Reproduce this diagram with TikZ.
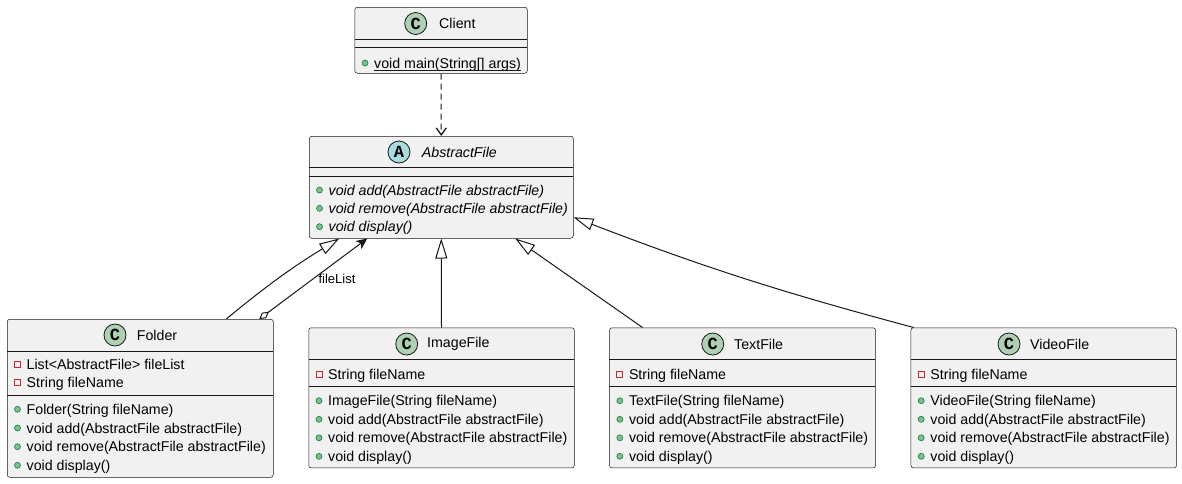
\documentclass[tikz,border=0pt]{standalone}
\usepackage{fontspec}
\setmainfont{Liberation Sans}
\newfontfamily\spotfont{Liberation Mono}
\usetikzlibrary{arrows.meta}
\definecolor{boxfill}{HTML}{F1F1F1}
\definecolor{ink}{HTML}{181818}
\definecolor{spotC}{HTML}{ADD1B2}
\definecolor{spotA}{HTML}{A9DCDF}
\definecolor{pubfill}{HTML}{84BE84}
\definecolor{pubdraw}{HTML}{038048}
\definecolor{privdraw}{HTML}{C82930}
\tikzset{
  classbox/.style={draw=ink, line width=0.5pt, fill=boxfill, rounded corners=2.5pt, inner sep=0pt, anchor=north west},
  sepline/.style={draw=ink, line width=0.5pt},
  spot/.style={circle, draw=ink, line width=0.8pt, minimum size=22pt, inner sep=0pt, font=\spotfont\bfseries\fontsize{17}{17}\selectfont},
  title/.style={anchor=west, inner sep=0pt, font=\fontsize{14.2}{16}\selectfont},
  mem/.style={anchor=base west, inner sep=0pt, font=\fontsize{14.2}{16}\selectfont},
  pubmark/.style={fill=pubfill, draw=pubdraw, line width=0.6pt},
  privmark/.style={draw=privdraw, line width=0.8pt},
  conn/.style={draw=ink, line width=1pt},
  gen/.style={conn, -{Triangle[open, length=20pt, width=12pt]}},
  dep/.style={conn, dash pattern=on 6pt off 4pt, -{Straight Barb[length=7pt, width=10pt, line width=1.3pt]}},
  agg/.style={conn, {Diamond[open, length=12pt, width=7pt]}-{Stealth[length=11pt, width=10pt, inset=3pt]}},
  lbl/.style={inner sep=0pt, font=\fontsize{13}{15}\selectfont}
}
% name, box left, centre y, text
\newcommand\pubmem[4]{%
  \fill[pubmark] ({#2+10.5},{#3}) circle (3pt);
  \node[mem] (#1) at ({#2+19.5},{#3+5}) {#4};}
\newcommand\privmem[4]{%
  \draw[privmark] ({#2+7.5},{#3-3}) rectangle ({#2+13.5},{#3+3});
  \node[mem] (#1) at ({#2+19.5},{#3+5}) {#4};}
\begin{document}
\begin{tikzpicture}[x=1pt, y=-1pt]
\useasboundingbox (0,0) rectangle (1182,483);
\fill[white] (0,0) rectangle (1182,483);

% Client
\node[classbox, minimum width=172.5pt, minimum height=66pt] (client) at (354.5,7) {};
\draw[sepline] (354.5,39.5) -- (527,39.5);
\draw[sepline] (354.5,47.5) -- (527,47.5);
\node[spot, fill=spotC] (clientspot) at (415.7,23.5) {C};
\node[title] (clienttitle) at (439,23.5) {Client};
\pubmem{clientm1}{354.5}{63}{void main(String[] args)}
\draw[ink, line width=0.8pt] ([yshift=-2pt]clientm1.base west) -- ([yshift=-2pt]clientm1.base east);

% AbstractFile
\node[classbox, minimum width=264pt, minimum height=102pt] (abs) at (309,136) {};
\draw[sepline] (309,167) -- (573,167);
\draw[sepline] (309,176) -- (573,176);
\node[spot, fill=spotA] (absspot) at (399,152) {A};
\node[title, font=\fontsize{14.2}{16}\selectfont\itshape] (abstitle) at (421.7,152) {AbstractFile};
\pubmem{absm1}{309}{190}{\itshape void add(AbstractFile abstractFile)}
\pubmem{absm2}{309}{208.3}{\itshape void remove(AbstractFile abstractFile)}
\pubmem{absm3}{309}{226.7}{\itshape void display()}

% Folder
\node[classbox, minimum width=266pt, minimum height=158pt] (fold) at (7,319) {};
\draw[sepline] (7,351) -- (273,351);
\draw[sepline] (7,395) -- (273,395);
\node[spot, fill=spotC] (foldspot) at (115,335) {C};
\node[title] (foldtitle) at (136.7,335) {Folder};
\privmem{folda1}{7}{364}{List<AbstractFile> fileList}
\privmem{folda2}{7}{382.7}{String fileName}
\pubmem{foldm1}{7}{409.3}{Folder(String fileName)}
\pubmem{foldm2}{7}{428}{void add(AbstractFile abstractFile)}
\pubmem{foldm3}{7}{446.7}{void remove(AbstractFile abstractFile)}
\pubmem{foldm4}{7}{465.3}{void display()}

% ImageFile
\node[classbox, minimum width=265.5pt, minimum height=140.2pt] (img) at (308.5,327.5) {};
\draw[sepline] (308.5,359) -- (574,359);
\draw[sepline] (308.5,386.7) -- (574,386.7);
\node[spot, fill=spotC] (imgspot) at (406.7,344) {C};
\node[title] (imgtitle) at (427,344) {ImageFile};
\privmem{imga1}{308.5}{374}{String fileName}
\pubmem{imgm1}{308.5}{400.7}{ImageFile(String fileName)}
\pubmem{imgm2}{308.5}{419.3}{void add(AbstractFile abstractFile)}
\pubmem{imgm3}{308.5}{437.8}{void remove(AbstractFile abstractFile)}
\pubmem{imgm4}{308.5}{456.3}{void display()}

% TextFile
\node[classbox, minimum width=266pt, minimum height=140.2pt] (txt) at (609.3,327.5) {};
\draw[sepline] (609.3,359) -- (875.3,359);
\draw[sepline] (609.3,386.7) -- (875.3,386.7);
\node[spot, fill=spotC] (txtspot) at (712.7,344) {C};
\node[title] (txttitle) at (734,344) {TextFile};
\privmem{txta1}{609.3}{374}{String fileName}
\pubmem{txtm1}{609.3}{400.7}{TextFile(String fileName)}
\pubmem{txtm2}{609.3}{419.3}{void add(AbstractFile abstractFile)}
\pubmem{txtm3}{609.3}{437.8}{void remove(AbstractFile abstractFile)}
\pubmem{txtm4}{609.3}{456.3}{void display()}

% VideoFile
\node[classbox, minimum width=265.6pt, minimum height=140.2pt] (vid) at (910.7,327.5) {};
\draw[sepline] (910.7,359) -- (1176.3,359);
\draw[sepline] (910.7,386.7) -- (1176.3,386.7);
\node[spot, fill=spotC] (vidspot) at (1009,344) {C};
\node[title] (vidtitle) at (1030,344) {VideoFile};
\privmem{vida1}{910.7}{374}{String fileName}
\pubmem{vidm1}{910.7}{400.7}{VideoFile(String fileName)}
\pubmem{vidm2}{910.7}{419.3}{void add(AbstractFile abstractFile)}
\pubmem{vidm3}{910.7}{437.8}{void remove(AbstractFile abstractFile)}
\pubmem{vidm4}{910.7}{456.3}{void display()}

% connectors
\draw[dep] (client.south) -- (abs.north);
\draw[gen] (img.north) -- (abs.south);
\draw[gen] ([xshift=86pt]fold.north) to[bend left=4] ([xshift=-102pt]abs.south);
\draw[agg] ([xshift=119pt]fold.north) -- ([xshift=-74pt]abs.south);
\node[lbl] (agglbl) at (337,279) {fileList};
\draw[gen] ([xshift=-100pt]txt.north) -- ([xshift=74pt]abs.south);
\draw[gen] ([xshift=3pt]vid.north west) to[bend left=3] ([yshift=-30pt]abs.east);
\end{tikzpicture}
\end{document}
